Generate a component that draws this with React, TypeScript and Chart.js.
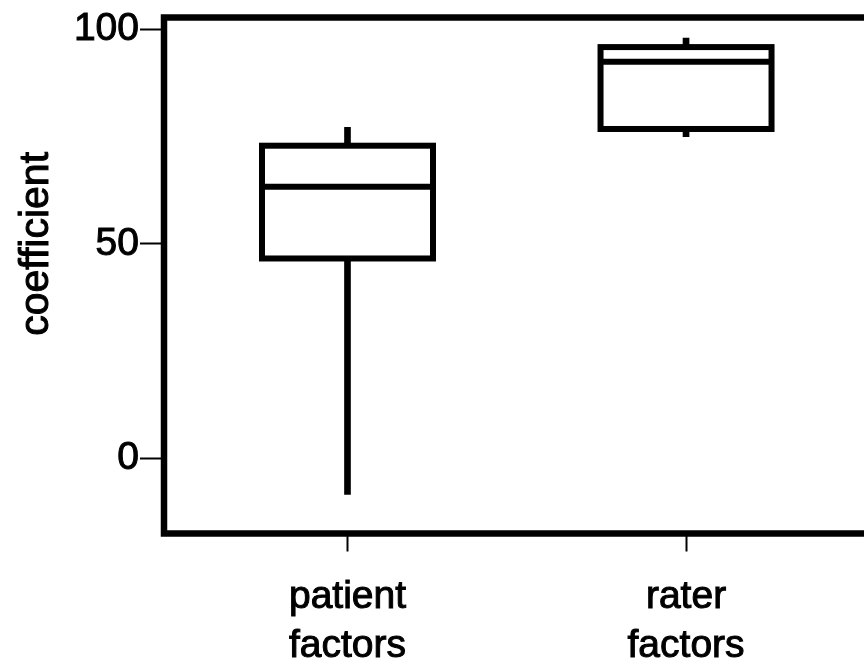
import React, { useEffect, useRef } from 'react';
import { Chart, registerables } from 'chart.js';

Chart.register(...registerables);

// ---- data ----
const categories: string[][] = [['patient', 'factors'], ['rater', 'factors']];
const categoryPositions = [1, 2];
const whiskerMin = [-8.4, 75.0];
const whiskerMax = [77.2, 98.0];
const quartile1 = [46.6, 76.8];
const medians = [63.3, 92.5];
const quartile3 = [72.9, 95.9];
const yTickValues = [0, 50, 100];
const yTitle = 'coefficient';

const FONT = '"Liberation Sans", Arial, Helvetica, sans-serif';

export default function App() {
  const ref = useRef<HTMLCanvasElement>(null);

  useEffect(() => {
    if (!ref.current) return;

    const boxPlugin = {
      id: 'boxPlotDraw',
      afterDatasetsDraw(chart: any) {
        const meta = chart.getDatasetMeta(1);
        const yScale = chart.scales.y;
        const ctx = chart.ctx;
        ctx.save();
        ctx.strokeStyle = '#000';
        ctx.lineWidth = 6;
        ctx.lineJoin = 'miter';
        meta.data.forEach((el: any, i: number) => {
          const p = el.getProps(['x', 'y', 'base', 'width'], true);
          const left = p.x - p.width / 2;
          const top = Math.min(p.y, p.base);
          const h = Math.abs(p.base - p.y);
          ctx.strokeRect(left, top, p.width, h);
          const my = yScale.getPixelForValue(medians[i]);
          ctx.beginPath();
          ctx.moveTo(left, my);
          ctx.lineTo(left + p.width, my);
          ctx.stroke();
        });
        ctx.restore();
      },
      afterDraw(chart: any) {
        const { ctx, chartArea: a, scales } = chart;
        ctx.save();
        ctx.strokeStyle = '#000';
        ctx.lineWidth = 6.5;
        ctx.lineJoin = 'miter';
        ctx.strokeRect(a.left, a.top, a.right - a.left, a.bottom - a.top);
        const yMid =
          (scales.y.getPixelForValue(yTickValues[0]) +
            scales.y.getPixelForValue(yTickValues[yTickValues.length - 1])) / 2;
        ctx.translate(48, yMid);
        ctx.rotate(-Math.PI / 2);
        ctx.fillStyle = '#000';
        ctx.font = `41px ${FONT}`;
        ctx.textAlign = 'center';
        ctx.textBaseline = 'alphabetic';
        ctx.fillText(yTitle, 0, 0);
        ctx.lineWidth = 1;
        ctx.strokeText(yTitle, 0, 0);
        ctx.restore();
      },
    };

    const chart = new Chart(ref.current, {
      type: 'bar',
      data: {
        datasets: [
          {
            label: 'whisker',
            data: categoryPositions.map((x, i) => ({ x, y: [whiskerMin[i], whiskerMax[i]] })) as any,
            backgroundColor: '#000',
            borderWidth: 0,
            barThickness: 6,
            grouped: false,
            order: 2,
          } as any,
          {
            label: 'box',
            data: categoryPositions.map((x, i) => ({ x, y: [quartile1[i], quartile3[i]] })) as any,
            backgroundColor: '#fff',
            borderWidth: 0,
            barThickness: 171,
            grouped: false,
            order: 1,
          } as any,
        ],
      },
      options: {
        animation: false,
        responsive: false,
        devicePixelRatio: 1,
        layout: { padding: { top: 17.5, left: 0, right: 0, bottom: 0 } },
        plugins: {
          legend: { display: false },
          tooltip: { enabled: false },
        },
        scales: {
          x: {
            type: 'linear',
            min: 0.458,
            max: 2.632,
            offset: false,
            afterFit: (s: any) => {
              s.height = 132.5;
              s.paddingLeft = 0;
              s.paddingRight = 0;
            },
            afterBuildTicks: (s: any) => {
              s.ticks = categoryPositions.map((v) => ({ value: v }));
            },
            ticks: {
              callback: (_v: any, i: number) => categories[i],
              font: { family: FONT, size: 39, lineHeight: 1.24 },
              color: '#000',
              textStrokeColor: '#000',
              textStrokeWidth: 1,
              padding: 22,
              maxRotation: 0,
              autoSkip: false,
            },
            grid: {
              offset: false,
              drawOnChartArea: false,
              drawTicks: true,
              tickLength: 18,
              tickWidth: 2,
              tickColor: '#000',
            },
            border: { display: false },
          },
          y: {
            type: 'linear',
            min: -17.54,
            max: 102.8,
            afterFit: (s: any) => {
              s.width = 164;
              s.paddingTop = 0;
              s.paddingBottom = 0;
            },
            afterBuildTicks: (s: any) => {
              s.ticks = yTickValues.map((v) => ({ value: v }));
            },
            ticks: {
              font: { family: FONT, size: 39, lineHeight: 0.8 },
              color: '#000',
              textStrokeColor: '#000',
              textStrokeWidth: 1,
              padding: 1,
            },
            grid: {
              drawOnChartArea: false,
              drawTicks: true,
              tickLength: 24,
              tickWidth: 2,
              tickColor: '#000',
            },
            border: { display: false },
          },
        },
      } as any,
      plugins: [boxPlugin],
    });

    return () => chart.destroy();
  }, []);

  return (
    <div
      style={{
        position: 'absolute',
        left: 0,
        top: 0,
        width: 864,
        height: 666,
        overflow: 'hidden',
        background: '#fff',
      }}
    >
      <canvas ref={ref} width={900} height={666} style={{ width: 900, height: 666, display: 'block' }} />
    </div>
  );
}
